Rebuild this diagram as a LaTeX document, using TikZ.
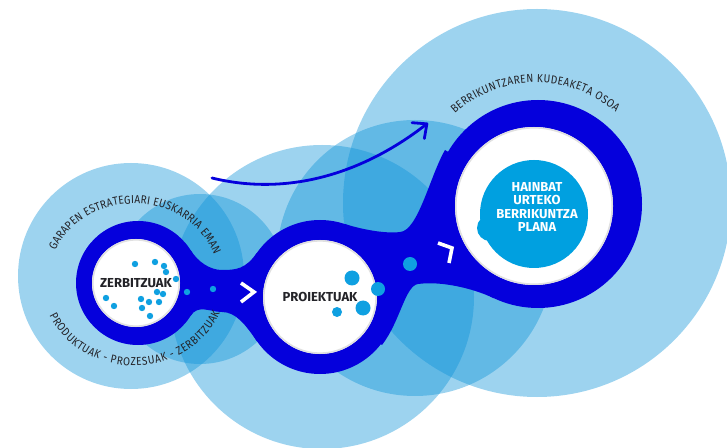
\documentclass[tikz,border=0pt]{standalone}
\usepackage{fontspec}
\setmainfont{Fira Sans}
\newfontfamily\arcfont[FakeStretch=0.88]{Fira Sans}
\usepackage{xcolor}
\usetikzlibrary{arrows.meta, decorations.text, positioning}
\definecolor{ringblue}{RGB}{5,0,220}
\definecolor{haloblue}{RGB}{10,145,215}
\definecolor{dotblue}{RGB}{15,160,225}
\definecolor{planblue}{RGB}{0,160,224}
\definecolor{labelgrey}{RGB}{35,35,40}

\begin{document}
\begin{tikzpicture}[x=1pt, y=1pt,
    halo/.style={fill=haloblue, fill opacity=0.4},
    hole/.style={circle, fill=white, inner sep=0pt, text=labelgrey, font=\bfseries\fontsize{13}{15}\selectfont},
    dot/.style={fill=dotblue},
    chevron/.style={draw=white, line width=3.6pt, line join=miter},
    curvetext/.style={decorate, decoration={text along path, text align=fit to path, text color=labelgrey, text={|\arcfont\fontsize{11.5}{13}\selectfont|#1}}}
]
\useasboundingbox (0,0) rectangle (727,447);
\clip (0,0) rectangle (727,447);

% light circles behind
\fill[halo] (131,171) circle (113);
\fill[halo] (200,168) circle (85);
\fill[halo] (322,150) circle (152);
\fill[halo] (415,189) circle (138);
\fill[halo] (537,244) circle (194);

% dark chain
\fill[ringblue] (138,164) circle (62);
\fill[ringblue] (320,150) circle (77);
\fill[ringblue] (538,243) circle (104);
\fill[ringblue] (138,164) -- (190.6,196.9) .. controls (198,185) and (210,177) .. (222,177)
    .. controls (236,177) and (245.5,177.8) .. (256.9,194.2) -- (320,150) -- (256.9,105.8)
    .. controls (245.5,122.2) and (236,135) .. (222,135)
    .. controls (210,135) and (198,143) .. (190.6,131.1) -- cycle;
\fill[ringblue] (320,150) -- (345,223) .. controls (360,218) and (385,213) .. (400,215)
    .. controls (418,216) and (430,271) .. (445,297) -- (538,243) -- (493.7,148.9)
    .. controls (471,159.5) and (440,166) .. (418,163)
    .. controls (405,161) and (400.3,125.7) .. (382,102) -- cycle;

% white holes
\node[hole, minimum size=88pt] (serv) at (136,164) {ZERBITZUAK};
\node[hole, minimum size=114pt] (proj) at (320,150) {PROIEKTUAK};
\node[hole, minimum size=158pt] (planhole) at (534,241) {};
\foreach \c/\r in {serv/44, proj/57, planhole/79}
  \draw[black!12, line width=1.6pt] (\c.center) circle [radius=\r-0.8];

\fill[planblue] (534,233) circle (54);
\fill[planblue] (490,219) circle (13);
\node[text=white, align=center, font=\bfseries\fontsize{13}{13.4}\selectfont] (plan) at (537,240) {HAINBAT\\URTEKO\\BERRIKUNTZA\\PLANA};

% dots
\foreach \p in {(135,183),(155,185),(164,181),(166,175),(176,168),(157,155),(163,153),
    (106,149),(114,141),(141,148),(149,145),(159,145),(142,139),(150,131),(187,155),(213,158)}
  \fill[dot] \p circle (3.2);
\foreach \x/\y/\r in {352/169/7.5, 378/158/7, 363/139/7.5, 337/135/5, 410/183/7}
  \fill[dot] (\x,\y) circle (\r);

% chevrons
\draw[chevron] (241,164) -- (254,155) -- (241,145);
\draw[chevron] (438,204) -- (452,199) -- (449,184);

% arrow
\coordinate (arrowstart) at (212,269);
\coordinate (arrowend) at (428,324);
\draw[ringblue, line width=2.8pt, line cap=round, -{Straight Barb[length=11pt, width=20pt, round]}]
  (arrowstart) .. controls (290,250) and (365,275) .. (arrowend);

% texts along the rings
\path[curvetext={GARAPEN ESTRATEGIARI EUSKARRIA EMAN}]
  (134,166) ++(157:85.4 and 77.4) arc[start angle=157, end angle=20, x radius=85.4, y radius=77.4];
\path[curvetext={PRODUKTUAK - PROZESUAK - ZERBITZUAK}]
  (134,166) ++(204:92.6 and 84.6) arc[start angle=204, end angle=338, x radius=92.6, y radius=84.6];
\path[curvetext={BERRIKUNTZAREN KUDEAKETA OSOA}]
  (536,243) ++(132:121.4) arc[start angle=132, end angle=49, radius=121.4];

\end{tikzpicture}
\end{document}
